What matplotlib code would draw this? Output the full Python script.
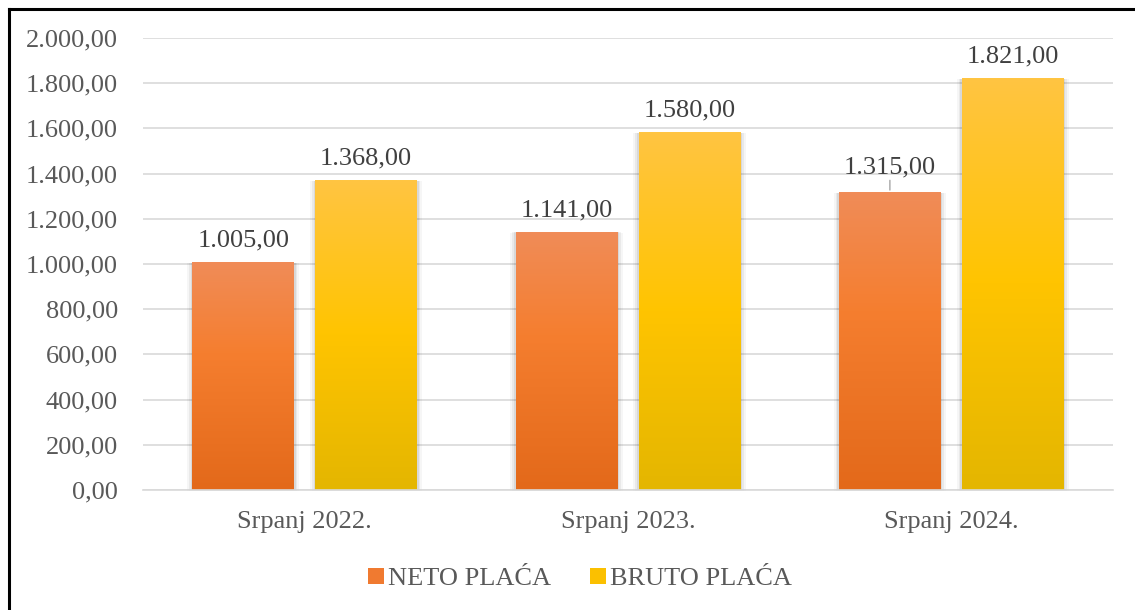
import numpy as np
import matplotlib.pyplot as plt
from matplotlib.colors import LinearSegmentedColormap
from matplotlib.patches import Rectangle, Patch
from matplotlib.lines import Line2D

plt.rcParams['font.family'] = ['Liberation Serif', 'DejaVu Serif']

# podaci
kategorije = ['Srpanj 2022.', 'Srpanj 2023.', 'Srpanj 2024.']
neto = [1005, 1141, 1315]
bruto = [1368, 1580, 1821]
serije = ['NETO PLAĆA', 'BRUTO PLAĆA']
y_ticks = [0, 200, 400, 600, 800, 1000, 1200, 1400, 1600, 1800, 2000]

# gradijenti (dno -> vrh)
cm_neto = LinearSegmentedColormap.from_list('neto', [(0, '#E3691A'), (0.6, '#F57E2F'), (1, '#F08C58')])
cm_bruto = LinearSegmentedColormap.from_list('bruto', [(0, '#E4B600'), (0.5, '#FFC400'), (1, '#FFC542')])


def fmt(v):
    s = '{:,.2f}'.format(v)
    return s.replace(',', 'X').replace('.', ',').replace('X', '.')


fig = plt.figure(figsize=(11.35, 6.10), dpi=100)
ax = fig.add_axes([0.126, 0.1967, 0.8546, 0.741])

x = np.arange(len(kategorije))
w = 0.315
off = 0.19
fs = 19


def bar_gradient(xc, h, cmap):
    x0, x1 = xc - w / 2, xc + w / 2
    # sjena
    for k, a in [(0.016, 0.035), (0.010, 0.05), (0.005, 0.07)]:
        ax.add_patch(Rectangle((x0 - k, -k * 400), w + 2 * k, h + k * 250,
                               facecolor='black', alpha=a, lw=0, zorder=2, clip_on=False))
    grad = np.linspace(0, 1, 256).reshape(-1, 1)
    ax.imshow(grad, extent=[x0, x1, 0, h], origin='lower', cmap=cmap,
              aspect='auto', zorder=3)


for i in range(len(kategorije)):
    bar_gradient(x[i] - off, neto[i], cm_neto)
    bar_gradient(x[i] + off, bruto[i], cm_bruto)

# oznake podataka
for i in range(len(kategorije)):
    dy = 8
    if i == 2:
        dy = 10
        ax.annotate('', xy=(x[i] - off, neto[i]), xytext=(0, 11), textcoords='offset points',
                    arrowprops=dict(arrowstyle='-', color='#A6A6A6', lw=1))
    ax.annotate(fmt(neto[i]), (x[i] - off, neto[i]), xytext=(0, dy), textcoords='offset points',
                ha='center', va='bottom', fontsize=fs, color='#404040', zorder=5)
    ax.annotate(fmt(bruto[i]), (x[i] + off, bruto[i]), xytext=(0, 8), textcoords='offset points',
                ha='center', va='bottom', fontsize=fs, color='#404040', zorder=5)

ax.set_xlim(-0.5, 2.5)
ax.set_ylim(0, 2000)
ax.set_yticks(y_ticks)
ax.set_yticklabels([fmt(v) for v in y_ticks])
ax.set_xticks(x)
ax.set_xticklabels(kategorije)
ax.tick_params(axis='y', length=0, pad=18, labelsize=fs, labelcolor='#595959')
ax.tick_params(axis='x', length=0, pad=15, labelsize=fs, labelcolor='#595959')
ax.grid(axis='y', color='#D9D9D9', lw=1.2, zorder=0)
ax.set_axisbelow(True)
for s in ['top', 'right', 'left']:
    ax.spines[s].set_visible(False)
ax.spines['bottom'].set_color('#D9D9D9')
ax.spines['bottom'].set_linewidth(1.2)
ax.spines['bottom'].set_zorder(4)

handles = [Patch(facecolor='#F07A30', edgecolor='none'), Patch(facecolor='#FBC000', edgecolor='none')]
fig.legend(handles, serije, loc='center', bbox_to_anchor=(0.511, 0.051), ncol=2, frameon=False,
           fontsize=fs, labelcolor='#595959', handlelength=0.6, handleheight=0.6,
           handletextpad=0.15, columnspacing=1.5)

# okvir (lijevo i gore)
fig.add_artist(Line2D([0.008, 0.008], [0, 0.985], transform=fig.transFigure, color='black', lw=2.2))
fig.add_artist(Line2D([0.008, 1.0], [0.985, 0.985], transform=fig.transFigure, color='black', lw=2.2))

fig.savefig('out.png', dpi=100)
